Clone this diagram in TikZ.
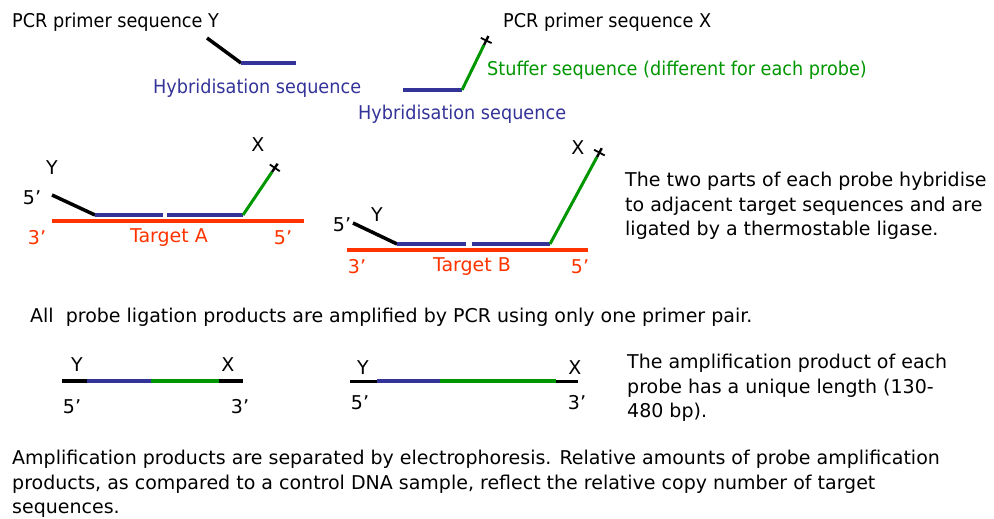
\documentclass[tikz,border=0pt]{standalone}
\usepackage{fontspec}
\setmainfont{DejaVu Sans}
\newfontfamily\narrowfont[FakeStretch=0.93]{DejaVu Sans}
\usetikzlibrary{positioning,calc}
\definecolor{probeblue}{RGB}{51,51,153}
\definecolor{stuffgreen}{RGB}{0,150,0}
\definecolor{targetred}{RGB}{255,51,0}
\tikzset{
  txt/.style={inner sep=0pt,anchor=west,align=left,font=\fontsize{19}{24.3}\selectfont},
  parttxt/.style={txt,font=\fontsize{19}{24}\narrowfont},
  lbl/.style={inner sep=0pt,font=\fontsize{19}{22}\selectfont},
  primer/.style={line width=3.5pt,black},
  hyb/.style={line width=3.5pt,probeblue},
  stuff/.style={line width=3pt,stuffgreen},
  target/.style={line width=4.5pt,targetred},
  prod/.style={line width=4.5pt},
  tick/.style={line width=2.4pt,black},
  tickbar/.style={line width=1.8pt,black}
}
\newcommand{\primertick}[2]{% green stuffer end (#2) seen from its start (#1)
  \draw[tick] (#2) -- ($(#2)!-10pt!(#1)$);
  \draw[tickbar] ($($(#2)!-5pt!(#1)$)!6pt!90:(#1)$) -- ($($(#2)!-5pt!(#1)$)!6pt!-90:(#1)$);}

\begin{document}
\begin{tikzpicture}[x=1pt,y=-1pt]
  \useasboundingbox (0,0) rectangle (994,519);

  %% Probe halves, before hybridisation
  \node[parttxt] (prY) at (12,22) {PCR primer sequence Y};
  \coordinate (ya0) at (207,38);
  \coordinate (ya1) at (241,63);
  \coordinate (ya2) at (296,63);
  \draw[primer] (ya0) -- (ya1);
  \draw[hyb] (ya1) -- (ya2);
  \node[parttxt,text=probeblue] (hybY) at (153,88) {Hybridisation sequence};

  \node[parttxt] (prX) at (503,22) {PCR primer sequence X};
  \coordinate (xa0) at (403,90);
  \coordinate (xa1) at (462,90);
  \coordinate (xa2) at (484,45);
  \draw[hyb] (xa0) -- (xa1);
  \draw[stuff] (xa1) -- (xa2);
  \primertick{xa1}{xa2}
  \node[parttxt,text=stuffgreen] (stuffer) at (487,70) {Stuffer sequence (different for each probe)};
  \node[parttxt,text=probeblue] (hybX) at (358,114) {Hybridisation sequence};

  %% Target A
  \coordinate (ta0) at (52,221);
  \coordinate (ta1) at (304,221);
  \draw[target] (ta0) -- (ta1);
  \coordinate (pa0) at (52,195);
  \coordinate (pa1) at (95,215);
  \coordinate (pa2) at (163,215);
  \coordinate (pa3) at (167,215);
  \coordinate (pa4) at (243,215);
  \coordinate (pa5) at (272,172);
  \draw[primer] (pa0) -- (pa1);
  \draw[hyb] (pa1) -- (pa2);
  \draw[hyb] (pa3) -- (pa4);
  \draw[stuff] (pa4) -- (pa5);
  \primertick{pa4}{pa5}
  \node[lbl] (aY) at (52,168) {Y};
  \node[lbl] (a5) at (32,198) {5’};
  \node[lbl] (aX) at (258,145) {X};
  \node[lbl,text=targetred] (a3r) at (37,238) {3’};
  \node[lbl,text=targetred] (tgtA) at (169,238) {Target A};
  \node[lbl,text=targetred] (a5r) at (283,238) {5’};

  %% Target B
  \coordinate (tb0) at (347,250);
  \coordinate (tb1) at (588,250);
  \draw[target] (tb0) -- (tb1);
  \coordinate (pb0) at (353,223);
  \coordinate (pb1) at (397,244);
  \coordinate (pb2) at (466,244);
  \coordinate (pb3) at (472,244);
  \coordinate (pb4) at (550,244);
  \coordinate (pb5) at (597,157);
  \draw[primer] (pb0) -- (pb1);
  \draw[hyb] (pb1) -- (pb2);
  \draw[hyb] (pb3) -- (pb4);
  \draw[stuff] (pb4) -- (pb5);
  \primertick{pb4}{pb5}
  \node[lbl] (bY) at (377,215) {Y};
  \node[lbl] (b5) at (342,225) {5’};
  \node[lbl] (bX) at (578,148) {X};
  \node[lbl,text=targetred] (b3r) at (357,267) {3’};
  \node[lbl,text=targetred] (tgtB) at (472,267) {Target B};
  \node[lbl,text=targetred] (b5r) at (580,267) {5’};

  \node[txt] (ligate) at (625,206)
    {The two parts of each probe hybridise\\to adjacent target sequences and are\\ligated by a thermostable ligase.};

  \node[txt] (allpcr) at (30,317)
    {All\ \ probe ligation products are amplified by PCR using only one primer pair.};

  %% Amplification products
  \draw[prod,black] (62,381) coordinate (ca0) -- (87,381) coordinate (ca1);
  \draw[prod,probeblue] (ca1) -- (151,381) coordinate (ca2);
  \draw[prod,stuffgreen] (ca2) -- (219,381) coordinate (ca3);
  \draw[prod,black] (ca3) -- (243,381) coordinate (ca4);
  \node[lbl] (cY) at (77,365) {Y};
  \node[lbl] (cX) at (228,365) {X};
  \node[lbl] (c5) at (72,407) {5’};
  \node[lbl] (c3) at (240,407) {3’};

  \draw[line width=3pt,black] (350,381) coordinate (da0) -- (377,381) coordinate (da1);
  \draw[prod,probeblue] (da1) -- (440,381) coordinate (da2);
  \draw[prod,stuffgreen] (da2) -- (556,381) coordinate (da3);
  \draw[line width=3pt,black] (da3) -- (578,381) coordinate (da4);
  \node[lbl] (dY) at (363,368) {Y};
  \node[lbl] (dX) at (575,368) {X};
  \node[lbl] (d5) at (360,403) {5’};
  \node[lbl] (d3) at (577,403) {3’};

  \node[txt] (unique) at (627,388)
    {The amplification product of each\\probe has a unique length (130-\\480 bp).};

  \node[txt] (electro) at (12,484)
    {Amplification products are separated by electrophoresis. Relative amounts of probe amplification\\products, as compared to a control DNA sample, reflect the relative copy number of target\\sequences.};
\end{tikzpicture}
\end{document}
